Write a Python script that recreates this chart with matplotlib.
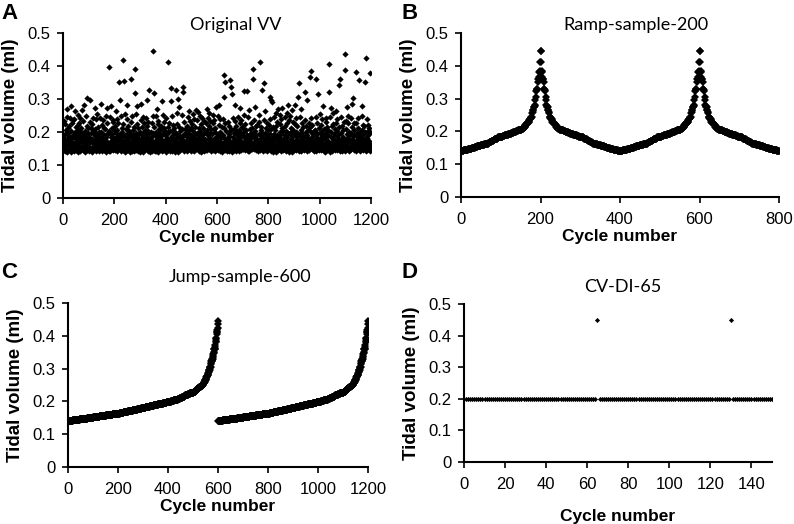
import numpy as np
import matplotlib
matplotlib.use('Agg')
import matplotlib.pyplot as plt

plt.rcParams['font.family'] = ['Liberation Sans', 'DejaVu Sans']

# original variable ventilation sequence, tidal volume in ul (1200 cycles)
vv_original_ul = [
    152, 171, 146, 183, 232, 158, 195, 143, 224, 149, 166, 205, 141, 270, 179, 139, 246, 175, 190, 212,
    198, 147, 218, 161, 168, 144, 186, 241, 155, 172, 203, 280, 140, 181, 227, 158, 165, 192, 150, 236,
    157, 142, 185, 238, 170, 149, 199, 264, 153, 167, 215, 145, 191, 178, 162, 174, 251, 139, 207, 221,
    166, 150, 194, 226, 141, 184, 156, 243, 175, 148, 201, 213, 159, 177, 268, 144, 169, 233, 190, 160,
    163, 281, 147, 182, 202, 140, 194, 170, 247, 165, 154, 303, 186, 146, 219, 176, 197, 158, 211, 151,
    155, 184, 143, 231, 296, 169, 148, 196, 172, 212, 151, 179, 139, 224, 205, 242, 166, 145, 193, 161,
    172, 147, 210, 187, 158, 273, 141, 167, 198, 238, 153, 180, 144, 254, 169, 190, 152, 216, 201, 143,
    189, 162, 150, 241, 174, 145, 199, 286, 156, 168, 221, 142, 183, 160, 236, 177, 194, 171, 213, 154,
    146, 178, 209, 164, 152, 192, 247, 140, 185, 273, 159, 170, 226, 148, 197, 157, 166, 397, 204, 143,
    198, 155, 244, 171, 142, 186, 278, 160, 149, 213, 193, 167, 235, 144, 175, 229, 158, 181, 205, 151,
    163, 218, 182, 145, 264, 170, 153, 196, 240, 141, 177, 206, 159, 188, 226, 148, 352, 174, 191, 156,
    152, 193, 297, 164, 247, 143, 181, 213, 157, 200, 169, 225, 419, 146, 187, 356, 160, 172, 149, 139,
    191, 158, 254, 173, 142, 209, 184, 283, 151, 166, 238, 197, 145, 176, 219, 162, 188, 203, 147, 140,
    170, 152, 229, 195, 161, 360, 143, 182, 249, 157, 168, 174, 205, 148, 190, 216, 163, 141, 391, 183,
    317, 155, 198, 169, 256, 146, 223, 187, 160, 279, 142, 176, 211, 194, 153, 180, 167, 150, 201, 139,
    162, 237, 179, 144, 286, 192, 157, 214, 171, 150, 245, 185, 140, 228, 199, 166, 158, 174, 207, 153,
    148, 193, 175, 241, 161, 217, 186, 296, 153, 204, 168, 143, 229, 196, 179, 156, 328, 171, 145, 139,
    201, 164, 183, 150, 187, 226, 172, 141, 444, 196, 159, 248, 168, 318, 146, 215, 170, 155, 192, 143,
    176, 247, 143, 199, 162, 271, 184, 151, 224, 170, 140, 233, 193, 158, 209, 181, 167, 147, 205, 156,
    155, 188, 219, 168, 142, 294, 177, 251, 160, 197, 145, 231, 174, 163, 212, 149, 204, 166, 191, 139,
    167, 241, 150, 194, 178, 159, 182, 214, 411, 146, 199, 173, 226, 155, 203, 165, 141, 162, 294, 148,
    184, 333, 162, 248, 175, 143, 206, 191, 221, 157, 168, 212, 149, 196, 178, 170, 153, 140, 328, 161,
    146, 197, 259, 171, 185, 224, 301, 158, 140, 275, 190, 166, 215, 152, 202, 179, 144, 174, 161, 149,
    178, 253, 156, 210, 168, 187, 336, 321, 149, 229, 193, 142, 172, 163, 158, 208, 165, 147, 151, 196,
    160, 219, 143, 185, 176, 244, 152, 198, 165, 264, 147, 207, 181, 156, 233, 170, 141, 191, 212, 163,
    189, 150, 225, 172, 145, 202, 256, 158, 183, 167, 239, 142, 195, 176, 214, 154, 178, 161, 268, 148,
    171, 236, 153, 197, 262, 162, 180, 143, 211, 188, 157, 249, 166, 204, 149, 175, 223, 192, 140, 146,
    155, 186, 241, 168, 147, 213, 194, 160, 232, 175, 141, 201, 179, 163, 170, 150, 228, 197, 144, 271,
    144, 205, 179, 157, 241, 191, 166, 258, 148, 218, 183, 159, 196, 234, 171, 142, 210, 174, 162, 151,
    193, 151, 226, 174, 252, 145, 208, 180, 158, 237, 169, 199, 141, 213, 186, 155, 276, 172, 163, 147,
    177, 249, 146, 195, 163, 283, 188, 154, 222, 170, 143, 238, 201, 159, 181, 166, 150, 214, 192, 140,
    165, 192, 239, 150, 184, 212, 306, 171, 372, 351, 145, 226, 160, 153, 178, 176, 203, 142, 157, 148,
    149, 231, 182, 166, 219, 194, 142, 187, 172, 357, 161, 203, 337, 168, 153, 210, 314, 158, 146, 140,
    158, 243, 185, 172, 146, 210, 198, 163, 152, 234, 180, 283, 167, 141, 219, 190, 174, 155, 204, 148,
    193, 168, 246, 151, 207, 179, 143, 228, 185, 272, 160, 197, 145, 237, 173, 215, 157, 165, 162, 149,
    147, 212, 188, 251, 163, 199, 324, 174, 145, 223, 181, 167, 157, 205, 192, 170, 324, 151, 142, 159,
    176, 244, 159, 191, 142, 268, 183, 208, 165, 152, 197, 150, 226, 171, 186, 213, 154, 148, 361, 162,
    392, 195, 170, 237, 148, 184, 276, 162, 203, 177, 144, 218, 190, 156, 179, 166, 221, 153, 141, 159,
    173, 229, 158, 252, 194, 146, 411, 180, 163, 167, 205, 152, 215, 188, 326, 161, 198, 170, 143, 149,
    184, 153, 236, 350, 170, 198, 265, 146, 213, 179, 159, 165, 192, 141, 226, 172, 207, 157, 162, 150,
    150, 221, 186, 168, 306, 239, 157, 194, 175, 296, 143, 208, 291, 182, 163, 171, 148, 216, 155, 140,
    195, 162, 244, 177, 153, 206, 188, 258, 140, 219, 183, 166, 229, 191, 149, 269, 174, 157, 145, 160,
    168, 187, 147, 253, 199, 161, 224, 178, 142, 240, 194, 156, 274, 172, 211, 165, 145, 203, 163, 151,
    181, 150, 217, 166, 245, 190, 158, 203, 176, 143, 259, 185, 169, 227, 152, 198, 281, 160, 147, 139,
    157, 235, 193, 171, 145, 248, 180, 162, 212, 199, 154, 266, 174, 140, 229, 188, 165, 207, 151, 146,
    190, 166, 223, 153, 281, 177, 200, 144, 241, 185, 159, 218, 196, 170, 148, 168, 306, 161, 142, 155,
    348, 193, 156, 246, 175, 206, 142, 271, 188, 163, 226, 152, 197, 168, 181, 215, 172, 145, 158, 149,
    164, 237, 322, 187, 150, 218, 173, 199, 192, 158, 296, 143, 206, 182, 166, 169, 227, 153, 146, 160,
    366, 180, 214, 155, 243, 172, 385, 199, 163, 221, 147, 186, 194, 170, 153, 167, 203, 141, 158, 150,
    175, 206, 157, 246, 190, 141, 360, 183, 228, 166, 197, 315, 149, 171, 180, 212, 162, 154, 145, 160,
    198, 169, 255, 146, 221, 184, 162, 238, 176, 203, 149, 279, 191, 165, 157, 187, 210, 143, 153, 140,
    183, 152, 229, 197, 170, 241, 144, 216, 188, 160, 205, 174, 192, 155, 407, 321, 167, 148, 139, 158,
    161, 244, 186, 149, 273, 199, 170, 218, 142, 257, 183, 163, 225, 195, 152, 166, 175, 208, 159, 145,
    194, 171, 226, 156, 264, 187, 145, 239, 202, 168, 150, 179, 192, 214, 162, 173, 343, 141, 158, 147,
    360, 158, 245, 197, 172, 182, 143, 219, 186, 166, 151, 207, 229, 163, 175, 148, 436, 160, 141, 389,
    178, 233, 163, 210, 147, 275, 194, 169, 248, 183, 155, 226, 200, 141, 176, 191, 172, 158, 152, 144,
    167, 198, 241, 152, 285, 180, 214, 163, 188, 302, 174, 145, 227, 191, 205, 169, 156, 149, 160, 142,
    382, 173, 226, 159, 184, 196, 147, 243, 179, 212, 161, 168, 190, 153, 359, 177, 201, 150, 142, 157,
    185, 152, 249, 170, 207, 279, 162, 221, 193, 145, 176, 178, 218, 160, 166, 199, 148, 353, 141, 156,
    424, 166, 238, 189, 155, 182, 203, 171, 222, 148, 213, 194, 163, 174, 199, 158, 143, 378, 150, 161,
]

# conventional ventilation with deep inflations
cv_volume = 0.2
cv_cycles = 150
di_cycles = [65, 130]
di_volume = 0.45

y_ticks = [0, 0.1, 0.2, 0.3, 0.4, 0.5]
y_ticklabels = ['0', '0.1', '0.2', '0.3', '0.4', '0.5']

vv = np.array(vv_original_ul) / 1000.0

# ramp: 200 values sampled from the original, sorted up then down, repeated
ramp_base = np.sort(vv[::6])
ramp = np.concatenate([ramp_base, ramp_base[::-1], ramp_base, ramp_base[::-1]])

# jump: 600 values sampled from the original, sorted, repeated
jump_base = np.sort(vv[::2])
jump = np.concatenate([jump_base, jump_base])

cv = np.full(cv_cycles, cv_volume)
for c in di_cycles:
    cv[c - 1] = di_volume

W, H = 794, 524
fig = plt.figure(figsize=(W / 100, H / 100), dpi=100)


def make_axes(l, r, t, b):
    return fig.add_axes([l / W, 1 - b / H, (r - l) / W, (b - t) / H])


def style(ax, xmax, xstep):
    ax.set_ylim(0, 0.5)
    ax.set_yticks(y_ticks)
    ax.set_yticklabels(y_ticklabels)
    ax.set_xlim(0, xmax)
    ax.set_xticks(np.arange(0, xmax + 1, xstep))
    for s in ['top', 'right']:
        ax.spines[s].set_visible(False)
    for s in ['left', 'bottom']:
        ax.spines[s].set_linewidth(1.5)
    ax.tick_params(direction='out', length=4, width=1.2, labelsize=12)
    ax.tick_params(axis='y', pad=5)
    ax.tick_params(axis='x', pad=7)
    ax.set_ylabel('Tidal volume (ml)', fontsize=13.5, fontweight='bold', labelpad=6)
    ax.set_xlabel('Cycle number', fontsize=12.5, fontweight='bold', labelpad=1)


ax_a = make_axes(63, 371, 33, 198)
ax_a.plot(np.arange(1, len(vv) + 1), vv, 'D', color='black', ms=3.2, mew=0)
style(ax_a, 1200, 200)

ax_b = make_axes(461, 779, 33, 197)
ax_b.plot(np.arange(1, len(ramp) + 1), ramp, 'D', color='black', ms=3.6, mew=0)
style(ax_b, 800, 200)

ax_c = make_axes(68, 368, 303, 467)
ax_c.plot(np.arange(1, len(jump) + 1), jump, 'D', color='black', ms=3.6, mew=0)
style(ax_c, 1200, 200)

ax_d = make_axes(464, 772, 304, 462)
ax_d.plot(np.arange(1, cv_cycles + 1), cv, 'D', color='black', ms=2.6, mew=0)
style(ax_d, 150, 20)
ax_d.xaxis.labelpad = 12

# panel titles
title_font = dict(family=['Lato', 'DejaVu Sans'], fontsize=13, ha='center', va='center')
fig.text(236 / W, 1 - 25 / H, 'Original VV', **title_font)
fig.text(636 / W, 1 - 25 / H, 'Ramp-sample-200', **title_font)
fig.text(240 / W, 1 - 277 / H, 'Jump-sample-600', **title_font)
fig.text(623 / W, 1 - 287 / H, 'CV-DI-65', **title_font)

# panel letters
for x, y, s in [(1, 3, 'A'), (401, 3, 'B'), (1, 262, 'C'), (401, 262, 'D')]:
    fig.text(x / W, 1 - y / H, s, fontsize=16, fontweight='bold', ha='left', va='top')

fig.savefig('out.png', dpi=100)
